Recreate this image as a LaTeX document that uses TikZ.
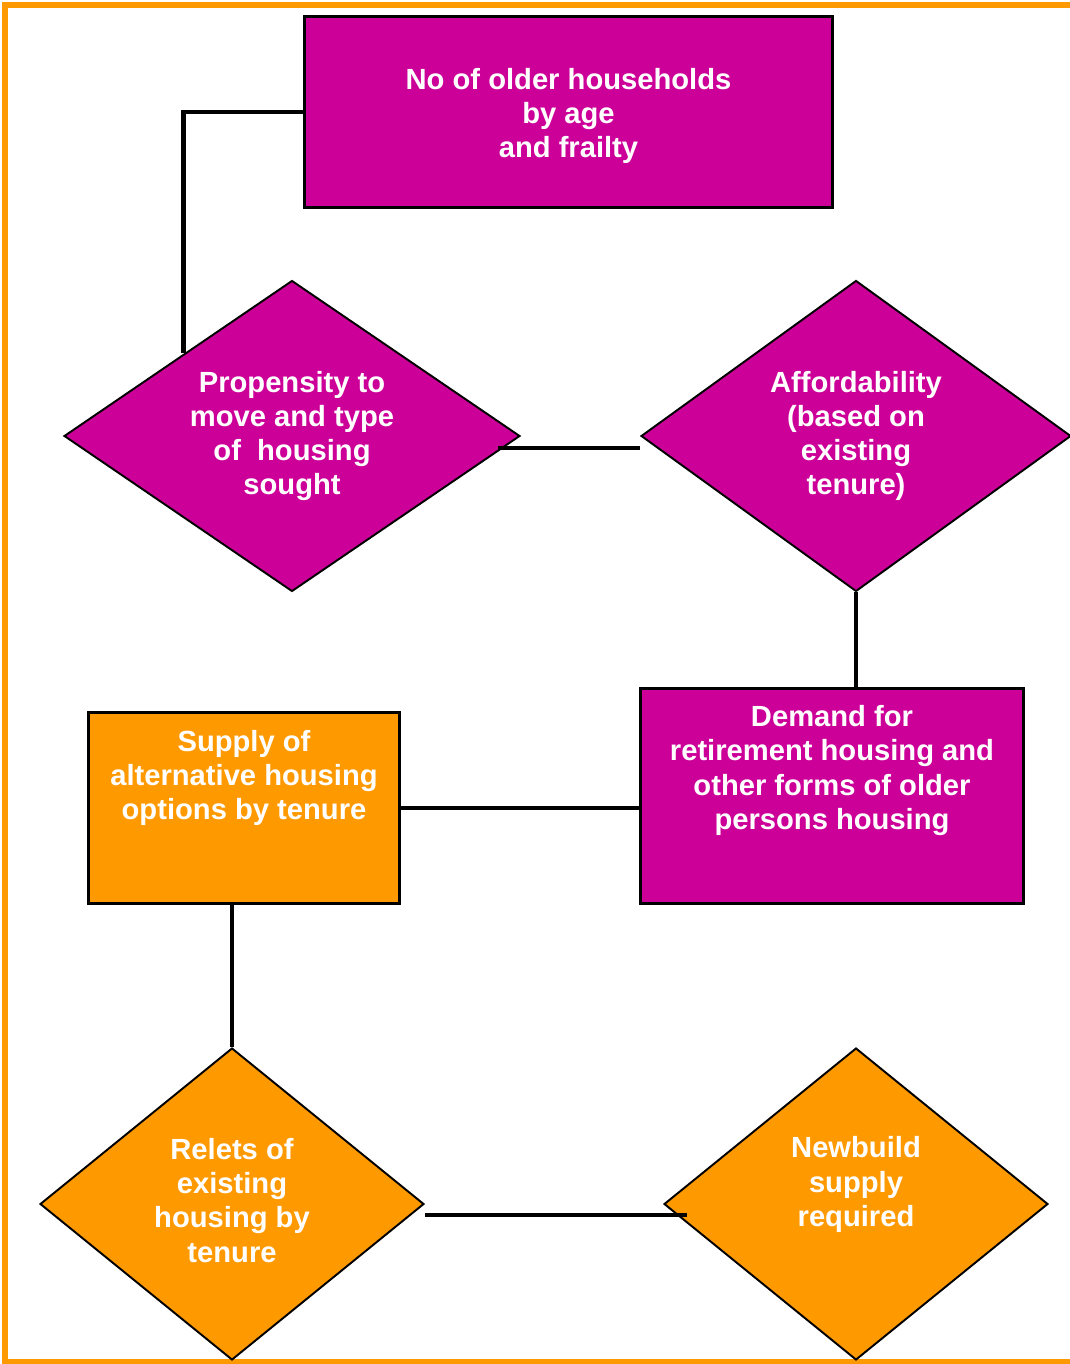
\documentclass[tikz,border=0pt]{standalone}
\usepackage{fontspec}
\setmainfont{Liberation Sans}
\usepackage{xcolor}
\usepackage{tikz}
\usetikzlibrary{shapes.geometric}
\definecolor{plum}{RGB}{204,0,153}
\definecolor{amber}{RGB}{255,153,0}
\tikzset{
 txt/.style={text=white,font=\bfseries\fontsize{16.6}{19.5}\selectfont,align=center,inner sep=0pt},
 pbox/.style={txt,rectangle,draw,line width=1.7pt,fill=plum},
 obox/.style={txt,rectangle,draw,line width=1.7pt,fill=amber},
 pdia/.style={txt,diamond,draw,line width=1.1pt,fill=plum},
 odia/.style={txt,diamond,draw,line width=1.1pt,fill=amber},
 link/.style={line width=2.6pt}
}
\begin{document}
\begin{tikzpicture}[x=0.02cm,y=-0.02cm]
\useasboundingbox(0,0)rectangle(1070,1364);
\draw[amber,line width=3.4pt](5,5)rectangle(1073,1362);

% top row
\node[pbox,minimum width=10.55cm,minimum height=3.81cm](households)at(568.5,112){\mbox{}\\[-3pt]No of older households\\by age\\and frailty};
\node[pdia,aspect=1.47,minimum width=9.12cm,minimum height=6.22cm](propensity)at(292,436){Propensity to\\move and type\\of\ \ housing\\sought};
\node[pdia,aspect=1.38,minimum width=8.6cm,minimum height=6.22cm](affordability)at(856,436){Affordability\\(based on\\existing\\tenure)};

% middle row
\node[pbox,minimum width=7.65cm,minimum height=4.29cm](demand)at(832,796){Demand for\\retirement housing and\\other forms of older\\persons housing\\[13pt]\mbox{}};
\node[obox,minimum width=6.21cm,minimum height=3.81cm](supply)at(244,808){Supply of\\alternative housing\\options by tenure\\[18pt]\mbox{}};

% bottom row
\node[odia,aspect=1.23,minimum width=7.68cm,minimum height=6.24cm](relets)at(232,1204){Relets of\\existing\\housing by\\tenure\\[-15pt]\mbox{}};
\node[odia,aspect=1.23,minimum width=7.68cm,minimum height=6.24cm](newbuild)at(856,1204){Newbuild\\supply\\required\\[6pt]\mbox{}};

% links
\draw[link](households.west)-|([shift={(0.12cm,0.1cm)}]propensity.north west);
\draw[link]([shift={(-0.46cm,-0.24cm)}]propensity.east)--([yshift=-0.24cm]affordability.west);
\draw[link](affordability.south)--(affordability.south|-demand.north);
\draw[link](supply.east)--(supply.east-|demand.west);
\draw[link](relets.north|-supply.south)--(relets.north);
\draw[link]([yshift=-0.22cm]relets.east)--([shift={(0.48cm,-0.22cm)}]newbuild.west);
\end{tikzpicture}
\end{document}
